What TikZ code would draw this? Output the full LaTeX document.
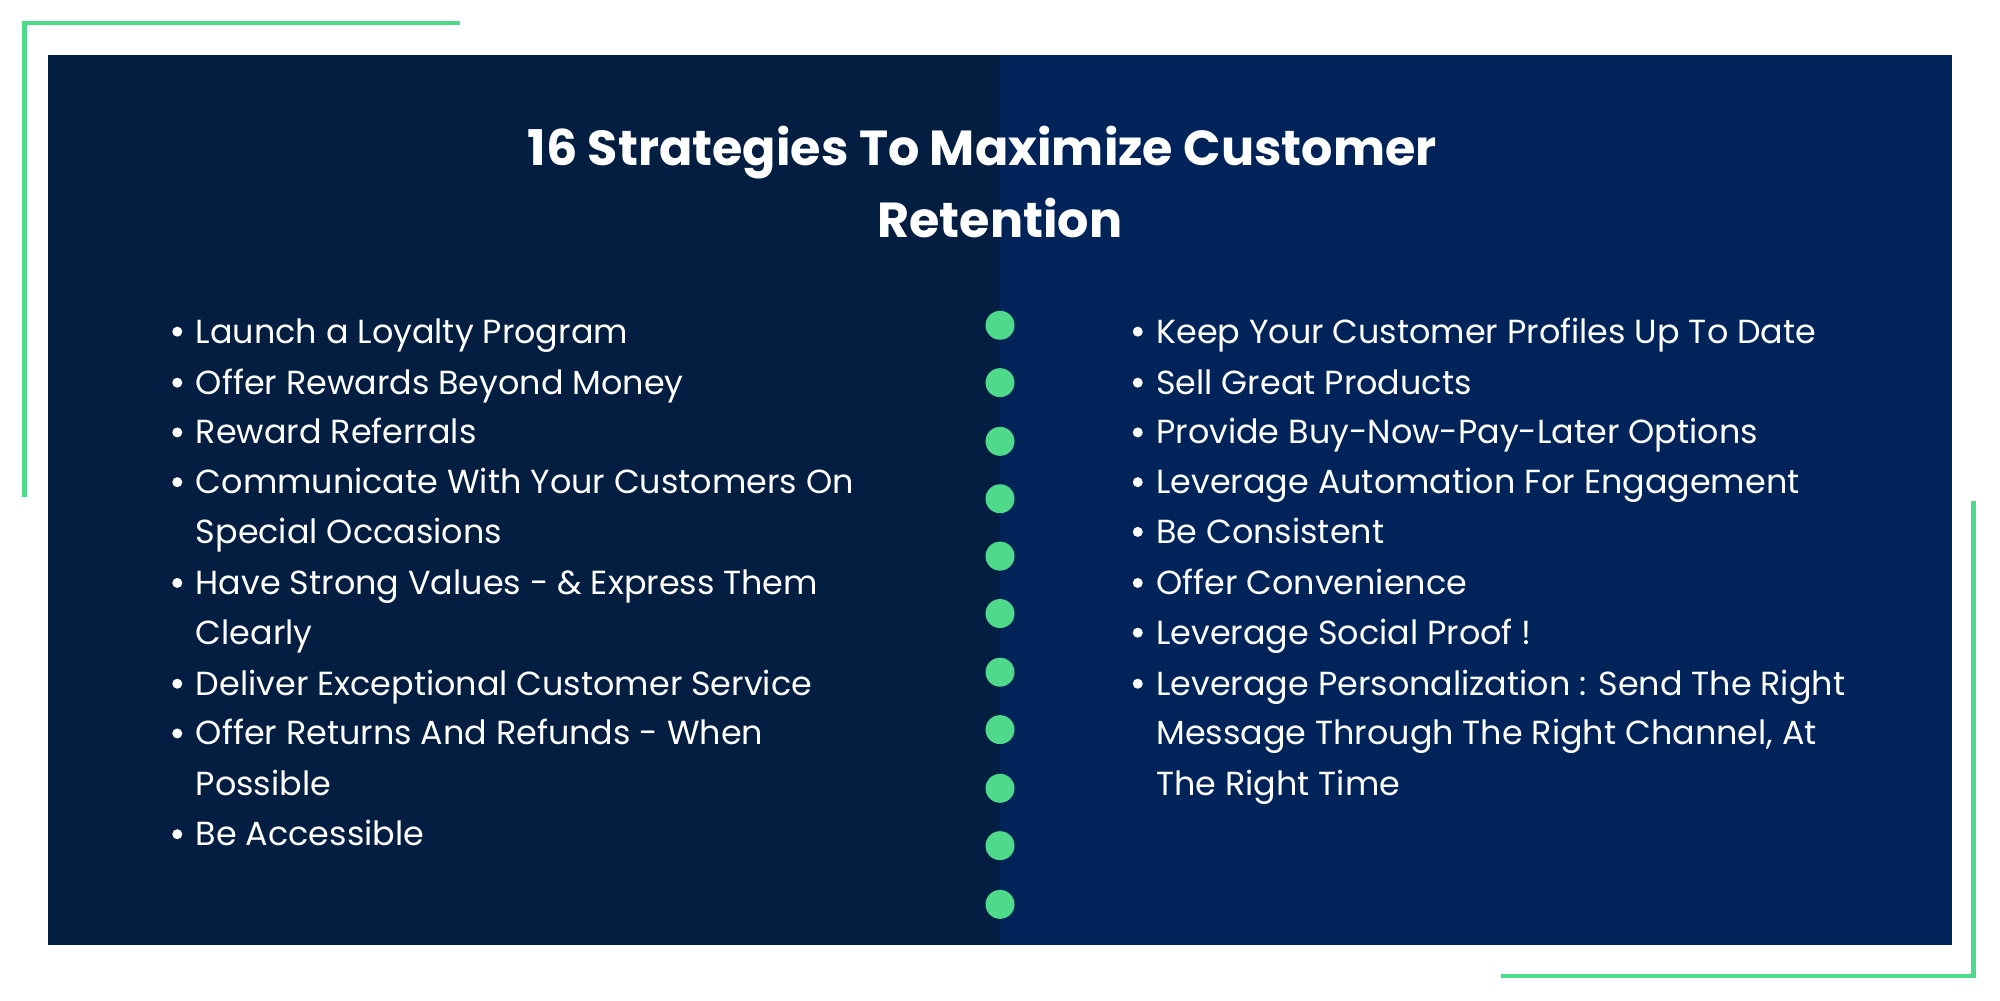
\documentclass[tikz,border=0pt]{standalone}
\usepackage{fontspec}
\setmainfont{Poppins}
\definecolor{grn}{HTML}{4FD98A}
\definecolor{darkL}{HTML}{041E42}
\definecolor{darkR}{HTML}{00245A}
\tikzset{
  frameline/.style={grn, line width=1.3pt},
  dotc/.style={circle, fill=grn, minimum size=0.29cm, inner sep=0pt},
  itm/.style={anchor=base west, text=white, font=\fontsize{9.5pt}{12pt}\selectfont, inner sep=0pt},
  bul/.style={circle, fill=white, minimum size=0.1cm, inner sep=0pt},
  ttl/.style={text=white, font=\fontsize{14pt}{20.3pt}\selectfont\bfseries, anchor=base}
}
\begin{document}
\begin{tikzpicture}[x=0.012755cm, y=-0.012755cm]
\useasboundingbox (0,0) rectangle (1568,784);
\fill[white] (0,0) rectangle (1568,784);
\draw[frameline] (361,18) coordinate (ta) -- (19,18) coordinate (tb) -- (19,390) coordinate (tc);
\draw[frameline] (1547,393) coordinate (ba) -- (1547,765) coordinate (bb) -- (1177,765) coordinate (bc);
\fill[darkL] (38,43) rectangle (784,741);
\fill[darkR] (784,43) rectangle (1530,741);
\node[ttl] (title1) at (770,130) {16 Strategies To Maximize Customer};
\node[ttl] (title2) at (784,186) {Retention};
\foreach \y [count=\i] in {255,300,346,391,436,481,527,572,618,663,709}
  \node[dotc] (d\i) at (784,\y) {};
% left column
\foreach \y/\t [count=\i] in {260/Launch a Loyalty Program, 300/Offer Rewards Beyond Money, 339/Reward Referrals, 378/Communicate With Your Customers On, 417/Special Occasions, 457/Have Strong Values - \& Express Them, 496/Clearly, 536/Deliver Exceptional Customer Service, 575/Offer Returns And Refunds - When, 615/Possible, 654/Be Accessible}
  \node[itm] (l\i) at (153,\y+9) {\t};
\foreach \y [count=\i] in {260,300,339,378,457,536,575,654}
  \node[bul] (lb\i) at (139,\y) {};
% right column
\foreach \y/\t [count=\i] in {260/Keep Your Customer Profiles Up To Date, 300/Sell Great Products, 339/Provide Buy-Now-Pay-Later Options, 378/Leverage Automation For Engagement, 417/Be Consistent, 457/Offer Convenience, 496/Leverage Social Proof !, 536/Leverage Personalization : Send The Right, 575/{Message Through The Right Channel, At}, 615/The Right Time}
  \node[itm] (r\i) at (906,\y+9) {\t};
\foreach \y [count=\i] in {260,300,339,378,417,457,496,536}
  \node[bul] (rb\i) at (892,\y) {};
\end{tikzpicture}
\end{document}
